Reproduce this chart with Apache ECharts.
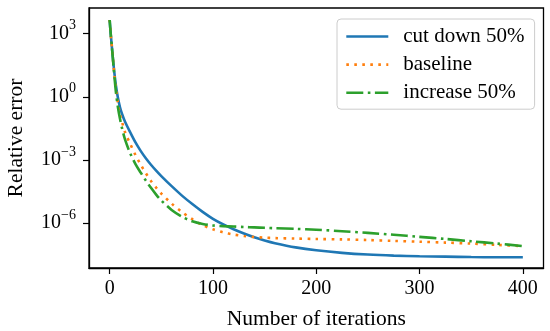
<!DOCTYPE html>
<html>
<head>
<meta charset="utf-8">
<script src="https://cdn.jsdelivr.net/npm/echarts@6/dist/echarts.min.js"></script>
<style>
html,body{margin:0;padding:0;background:#fff;}
#chart{width:550px;height:331px;}
</style>
</head>
<body>
<div id="chart"></div>
<script>
const iterations = [0,1,2,3,4,5,6,8,10,12,15,20,25,30,35,40,45,50,60,70,80,90,100,110,120,130,140,150,160,180,200,225,250,275,300,325,350,375,400];
const cutDown = [4.47e3,1.0e3,282,79.4,25.1,8.91,3.55,0.891,0.316,0.151,0.0631,0.02,6.76e-3,2.69e-3,1.2e-3,5.89e-4,3.09e-4,1.7e-4,5.62e-5,2.0e-5,7.94e-6,3.39e-6,1.58e-6,8.51e-7,5.01e-7,3.16e-7,2.09e-7,1.48e-7,1.1e-7,6.92e-8,5.01e-8,3.8e-8,3.16e-8,2.82e-8,2.63e-8,2.51e-8,2.4e-8,2.34e-8,2.34e-8];
const baseline = [4.47e3,1.0e3,282,79.4,22.4,7.08,2.51,0.501,0.141,0.0631,0.02,5.62e-3,1.7e-3,6.03e-4,2.34e-4,1.0e-4,4.79e-5,2.51e-5,8.32e-6,3.31e-6,1.51e-6,7.94e-7,5.01e-7,3.55e-7,2.82e-7,2.4e-7,2.14e-7,2.0e-7,1.91e-7,1.82e-7,1.74e-7,1.66e-7,1.55e-7,1.41e-7,1.29e-7,1.17e-7,1.05e-7,9.12e-8,7.94e-8];
const increase = [4.47e3,1.0e3,282,79.4,20.0,5.62,1.78,0.316,0.0891,0.0316,8.91e-3,2.0e-3,6.31e-4,2.51e-4,1.05e-4,4.68e-5,2.24e-5,1.17e-5,4.17e-6,2.0e-6,1.2e-6,8.91e-7,7.59e-7,7.08e-7,6.76e-7,6.46e-7,6.17e-7,5.89e-7,5.62e-7,5.25e-7,4.79e-7,4.07e-7,3.39e-7,2.75e-7,2.19e-7,1.74e-7,1.35e-7,1.05e-7,7.94e-8];
const seriesNames = ['cut down 50%','baseline','increase 50%'];
const xTicks = [0,100,200,300,400];
const yTicks = [1e-6,1e-3,1,1e3];

const FONT = '"Liberation Serif", "DejaVu Serif", serif';
const chart = echarts.init(document.getElementById('chart'), null, {renderer:'canvas'});
function pairs(vals){ return iterations.map((x,i)=>[x, vals[i]]); }
function supLabel(v){
  const e = Math.round(Math.log10(v));
  const s = e < 0 ? '\u2212' + (-e) : String(e);
  return '{b|10}{s|' + s + '}';
}
const option = {
  animation:false,
  grid:{left:89, top:8, right:6.5, bottom:63, containLabel:false, outerBoundsMode:'none',
        show:true, borderColor:'#000', borderWidth:1.3, backgroundColor:'transparent'},
  legend:{
    orient:'vertical', left:337, top:19,
    itemWidth:42, itemHeight:14, itemGap:7.1,
    padding:[7,10,6,8],
    backgroundColor:'rgba(255,255,255,0.8)', borderColor:'#cccccc', borderWidth:1, borderRadius:4,
    itemStyle:{opacity:0},
    lineStyle:{width:2.6},
    textStyle:{fontFamily:FONT, fontSize:21, color:'#000', lineHeight:14, padding:[0,0,0,10]},
    data:seriesNames
  },
  xAxis:{
    type:'value', min:-20, max:420,
    name:'Number of iterations', nameLocation:'middle', nameGap:40,
    nameTextStyle:{fontFamily:FONT, fontSize:21.5, color:'#000'},
    axisLine:{show:true, onZero:false, lineStyle:{color:'#000', width:1.3}},
    axisTick:{show:true, length:6, lineStyle:{color:'#000', width:1.2}, customValues:xTicks},
    axisLabel:{fontFamily:FONT, fontSize:20, color:'#000', margin:11, customValues:xTicks},
    splitLine:{show:false}
  },
  yAxis:{
    type:'log', logBase:10, min:Math.pow(10,-8.14), max:Math.pow(10,4.22),
    name:'Relative error', nameLocation:'middle', nameGap:62,
    nameTextStyle:{fontFamily:FONT, fontSize:21.5, color:'#000'},
    axisLine:{show:true, onZero:false, lineStyle:{color:'#000', width:1.3}},
    axisTick:{show:true, length:6, lineStyle:{color:'#000', width:1.2}, customValues:yTicks},
    axisLabel:{
      margin:13, customValues:yTicks, formatter:supLabel,
      rich:{
        b:{fontFamily:FONT, fontSize:20, color:'#000', lineHeight:30},
        s:{fontFamily:FONT, fontSize:14, color:'#000', lineHeight:14, verticalAlign:'top'}
      }
    },
    splitLine:{show:false}
  },
  series:[
    {name:seriesNames[0], type:'line', data:pairs(cutDown), showSymbol:false, symbol:'none', smooth:0.3,
     lineStyle:{color:'#1f77b4', width:2.6}, itemStyle:{color:'#1f77b4'}, z:3},
    {name:seriesNames[1], type:'line', data:pairs(baseline), showSymbol:false, symbol:'none', smooth:0.3,
     lineStyle:{color:'#ff7f0e', width:2.6, type:[2.6,5.4]}, itemStyle:{color:'#ff7f0e'}, z:4},
    {name:seriesNames[2], type:'line', data:pairs(increase), showSymbol:false, symbol:'none', smooth:0.3,
     lineStyle:{color:'#2ca02c', width:2.6, type:[17,4.5,2.6,4.5]}, itemStyle:{color:'#2ca02c'}, z:5}
  ]
};
chart.setOption(option);
</script>
</body>
</html>
